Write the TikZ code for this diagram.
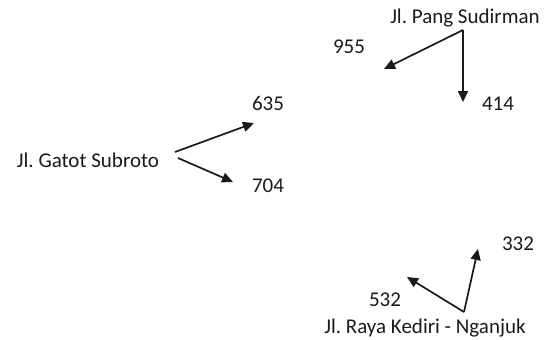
\documentclass[tikz,border=0pt]{standalone}
\usepackage{fontspec}
\setmainfont{Carlito}
\usetikzlibrary{arrows.meta}
\definecolor{txt}{HTML}{1A1A1A}
\frenchspacing
\tikzset{
  lbl/.style={text=txt, inner sep=0pt, font=\fontsize{21}{25}\selectfont},
  arr/.style={draw=txt, line width=1.7pt, -{Triangle[length=11pt,width=10pt]}}
}
\begin{document}
\begin{tikzpicture}[x=1pt,y=-1pt]
\useasboundingbox (0,0) rectangle (550,340);
% labels
\node[lbl] (gatot) at (88,160) {Jl. Gatot Subroto};
\node[lbl] (n635) at (268,103) {635};
\node[lbl] (n704) at (268,186) {704};
\node[lbl] (pang) at (465,18) {Jl. Pang Sudirman};
\node[lbl] (n955) at (349,47) {955};
\node[lbl] (n414) at (498,104) {414};
\node[lbl] (raya) at (425,328) {Jl. Raya Kediri - Nganjuk};
\node[lbl] (n532) at (385,300) {532};
\node[lbl] (n332) at (518,244) {332};
% connector points
\coordinate (g0) at (175,152);
\coordinate (g1) at (254,123);
\coordinate (g2) at (178,158);
\coordinate (g3) at (233,182);
\coordinate (p0) at (463,30);
\coordinate (p1) at (384,69);
\coordinate (p2) at (463,102);
\coordinate (r0) at (464,312);
\coordinate (r1) at (478,249);
\coordinate (r2) at (407,277);
% arrows
\draw[arr] (g0) -- (g1);
\draw[arr] (g2) -- (g3);
\draw[arr] (p0) -- (p1);
\draw[arr] (p0) -- (p2);
\draw[arr] (r0) -- (r1);
\draw[arr] (r0) -- (r2);
\end{tikzpicture}
\end{document}
